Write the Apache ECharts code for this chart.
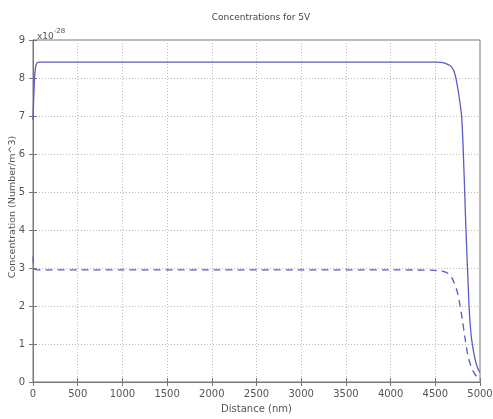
<!DOCTYPE html>
<html>
<head>
<meta charset="utf-8">
<script src="https://cdn.jsdelivr.net/npm/echarts@6/dist/echarts.min.js"></script>
<style>
  html, body { margin: 0; padding: 0; background: #fff; }
  #chart { width: 493px; height: 419px; }
</style>
</head>
<body>
<div id="chart"></div>
<script>
// Concentration profiles across the device at 5V (values in units of 1e-28 Number/m^3)
const solidDistance = [0, 10, 20, 35, 60, 500, 1000, 2000, 3000, 4000, 4500, 4560, 4620, 4680, 4720, 4760, 4795, 4820, 4840, 4860, 4880, 4900, 4925, 4950, 4980, 5000];
const solidConc     = [6.9, 7.6, 8.1, 8.35, 8.42, 8.42, 8.42, 8.42, 8.42, 8.42, 8.42, 8.41, 8.38, 8.3, 8.1, 7.6, 6.97, 5.6, 4.2, 3.0, 1.9, 1.25, 0.84, 0.55, 0.33, 0.25];

const dashedDistance = [0, 8, 20, 60, 500, 1000, 2000, 3000, 4000, 4500, 4580, 4640, 4690, 4740, 4770, 4800, 4830, 4860, 4890, 4920, 4960, 5000];
const dashedConc     = [3.3, 3.05, 2.96, 2.95, 2.95, 2.95, 2.95, 2.95, 2.95, 2.94, 2.92, 2.86, 2.72, 2.42, 2.1, 1.68, 1.2, 0.75, 0.48, 0.3, 0.15, 0.08];

const xTicks = { min: 0, max: 5000, step: 500 };
const yTicks = { min: 0, max: 9, step: 1 };

const titleText = 'Concentrations for 5V';
const xName = 'Distance (nm)';
const yName = 'Concentration (Number/m^3)';

const zip = (xs, ys) => xs.map((x, i) => [x, ys[i]]);

const font = 'DejaVu Sans';
const textColor = '#555';
const lineColor = '#5a5ac8';

const chart = echarts.init(document.getElementById('chart'));

const baseAxis = {
  axisLine: { show: true, lineStyle: { color: '#777', width: 1 } },
  axisTick: { show: true, inside: true, length: 4, lineStyle: { color: '#777' } },
  axisLabel: { color: textColor, fontFamily: font, fontSize: 10, formatter: v => String(v) },
  splitLine: { show: true, lineStyle: { color: '#bbb', type: [1, 2], width: 1 } }
};

chart.setOption({
  animation: false,
  backgroundColor: '#fff',
  title: {
    text: titleText,
    left: 256,
    textAlign: 'center',
    top: 8,
    textStyle: { fontFamily: font, fontSize: 9, fontWeight: 'normal', color: '#444' }
  },
  grid: {
    left: 33, right: 13, top: 40, bottom: 37,
    containLabel: false, outerBoundsMode: 'none',
    show: true, borderColor: '#777', borderWidth: 1, backgroundColor: '#fff'
  },
  graphic: [
    {
      type: 'text',
      left: 37,
      top: 28,
      style: {
        text: '{b|x10}{s|-28}',
        rich: {
          b: { fontFamily: font, fontSize: 9, fill: textColor, verticalAlign: 'bottom' },
          s: { fontFamily: font, fontSize: 7, fill: textColor, verticalAlign: 'top', padding: [0, 0, 6, 0] }
        }
      }
    },
    {
      // vertical axis title
      type: 'text',
      x: 13,
      y: 207,
      rotation: Math.PI / 2,
      style: {
        text: yName, fontFamily: font, fontSize: 9.5, fill: textColor,
        align: 'center', verticalAlign: 'middle'
      }
    }
  ],
  xAxis: [
    Object.assign({}, baseAxis, {
      type: 'value', min: xTicks.min, max: xTicks.max, interval: xTicks.step,
      name: xName, nameLocation: 'middle', nameGap: 22,
      nameTextStyle: { color: textColor, fontFamily: font, fontSize: 10 },
      axisLabel: Object.assign({}, baseAxis.axisLabel, { margin: 7 })
    }),
    {
      type: 'value', position: 'top', min: xTicks.min, max: xTicks.max, interval: xTicks.step,
      axisLine: { show: true, lineStyle: { color: '#777' } },
      axisTick: { show: true, inside: true, length: 4, lineStyle: { color: '#777' } },
      axisLabel: { show: false }, splitLine: { show: false }
    }
  ],
  yAxis: [
    Object.assign({}, baseAxis, {
      type: 'value', min: yTicks.min, max: yTicks.max, interval: yTicks.step,
      axisLabel: Object.assign({}, baseAxis.axisLabel, { margin: 8 })
    }),
    {
      type: 'value', position: 'right', min: yTicks.min, max: yTicks.max, interval: yTicks.step,
      axisLine: { show: true, lineStyle: { color: '#777' } },
      axisTick: { show: true, inside: true, length: 4, lineStyle: { color: '#777' } },
      axisLabel: { show: false }, splitLine: { show: false }
    }
  ],
  series: [
    {
      type: 'line', data: zip(solidDistance, solidConc), smooth: 0.3, showSymbol: false,
      lineStyle: { color: lineColor, width: 1.3 }
    },
    {
      type: 'line', data: zip(dashedDistance, dashedConc), smooth: 0.3, showSymbol: false,
      lineStyle: { color: lineColor, width: 1.3, type: [7, 5] }
    }
  ]
});
</script>
</body>
</html>
